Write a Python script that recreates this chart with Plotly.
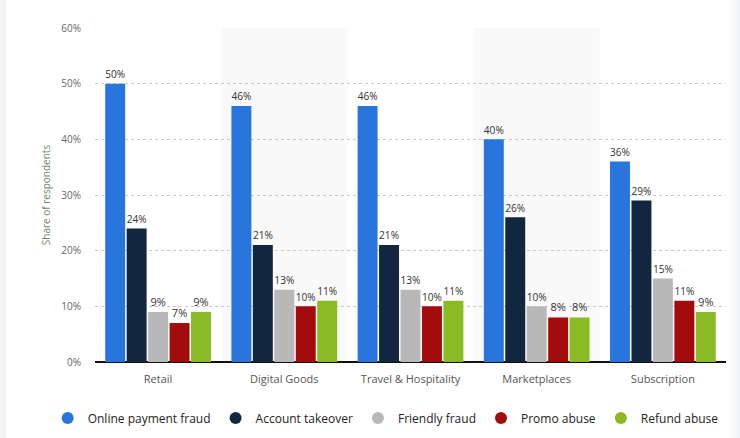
import plotly.graph_objects as go

categories = ["Retail", "Digital Goods", "Travel & Hospitality", "Marketplaces", "Subscription"]
series_names = ["Online payment fraud", "Account takeover", "Friendly fraud", "Promo abuse", "Refund abuse"]
online_payment_fraud = [50, 46, 46, 40, 36]
account_takeover = [24, 21, 21, 26, 29]
friendly_fraud = [9, 13, 13, 10, 15]
promo_abuse = [7, 10, 10, 8, 11]
refund_abuse = [9, 11, 11, 8, 9]
y_ticks = [0, 10, 20, 30, 40, 50, 60]
y_tick_labels = ["0%", "10%", "20%", "30%", "40%", "50%", "60%"]

series_values = [online_payment_fraud, account_takeover, friendly_fraud, promo_abuse, refund_abuse]
colors = ["#2876dd", "#12273f", "#b8b8b8", "#a30b0d", "#8aba24"]

FONT = "Open Sans"
W, H = 740, 438
L, R, T, B = 95, 14, 28, 76
PW = W - L - R


def px_to_paper(px):
    return (px - L) / PW


fig = go.Figure()
for name, vals, col in zip(series_names, series_values, colors):
    fig.add_trace(go.Bar(
        x=categories, y=vals, name=name, marker=dict(color=col, line=dict(width=0)),
        text=[f"{v}%" for v in vals], textposition="outside",
        textfont=dict(family=FONT, size=11, color="#333333"),
        cliponaxis=False, showlegend=False, hoverinfo="skip",
    ))
# legend entries with circle markers
for name, col in zip(series_names, colors):
    fig.add_trace(go.Scatter(
        x=[None], y=[None], mode="markers", name=name,
        marker=dict(symbol="circle", size=12, color=col), showlegend=True,
    ))

# alternating background bands
shapes = []
for i in range(len(categories)):
    if i % 2 == 1:
        shapes.append(dict(type="rect", xref="x", yref="y", x0=i - 0.5, x1=i + 0.5,
                           y0=0, y1=60, fillcolor="#f9f9f9", line=dict(width=0), layer="below"))
# page edge shading
shapes.append(dict(type="rect", xref="paper", yref="paper", x0=px_to_paper(0), x1=px_to_paper(6),
                   y0=-1, y1=2, fillcolor="#f1f3f6", line=dict(width=0), layer="below"))
for k, c in enumerate(["#fcfcfc", "#f9f9fa", "#f6f7f8", "#f3f4f6"]):
    shapes.append(dict(type="rect", xref="paper", yref="paper", x0=px_to_paper(728 + 3 * k), x1=px_to_paper(W + 2),
                       y0=-1, y1=2, fillcolor=c, line=dict(width=0), layer="below"))

fig.update_layout(
    width=W, height=H,
    margin=dict(l=L, r=R, t=T, b=B, autoexpand=False),
    paper_bgcolor="white", plot_bgcolor="white",
    barmode="group", bargap=0.15, bargroupgap=0.07,
    shapes=shapes,
    showlegend=True,
    legend=dict(orientation="h", x=-0.075, xanchor="left", y=-0.168, yanchor="middle",
                font=dict(family=FONT, size=12, color="#222222"),
                itemsizing="constant", traceorder="normal"),
    xaxis=dict(tickfont=dict(family=FONT, size=11, color="#555555"), showgrid=False,
               showline=False, ticks="", fixedrange=True, ticklabelstandoff=9),
    yaxis=dict(range=[0, 60], tickvals=y_ticks, ticktext=y_tick_labels,
               tickfont=dict(family=FONT, size=10, color="#666666"),
               showgrid=True, gridcolor="#c8c8c8", griddash="dot", gridwidth=1,
               zeroline=True, zerolinecolor="#111111", zerolinewidth=2,
               ticks="", ticklabelstandoff=13, fixedrange=True,
               title=dict(text="Share of respondents", font=dict(family=FONT, size=10, color="#6a8a6a"), standoff=8)),
    font=dict(family=FONT),
)

fig.write_html("out.html", config={"displayModeBar": False},
               post_script="document.body.style.margin='0';document.body.style.overflow='hidden';")
